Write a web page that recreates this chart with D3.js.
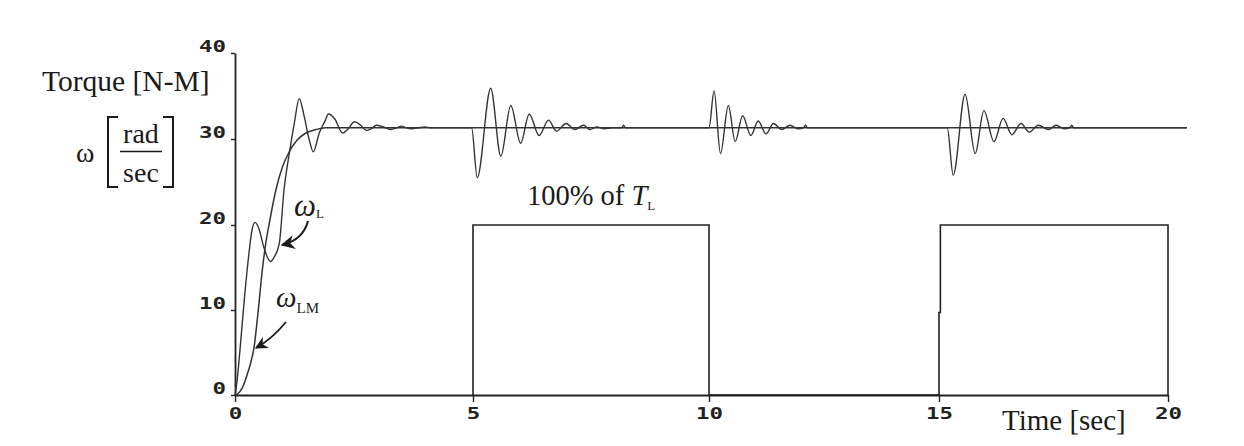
<!DOCTYPE html>
<html>
<head>
<meta charset="utf-8">
<script src="https://cdn.jsdelivr.net/npm/d3@7/dist/d3.min.js"></script>
<style>
  html, body { margin: 0; padding: 0; background: #ffffff; }
  svg { display: block; }
  .serif { font-family: "Liberation Serif", "Times New Roman", serif; fill: #1a1a1a; }
  .tick text { font-family: "DejaVu Sans Mono", monospace; font-weight: bold; font-size: 15px; fill: #222; }
</style>
</head>
<body>
<svg id="chart" width="1244" height="446"></svg>
<script>
// ---- data ----
const xTicks = [0, 5, 10, 15, 20];
const yTicks = [0, 10, 20, 30, 40];

// omega_L (oscillating load speed)
const omegaLTime = [0, 0.04, 0.1, 0.2, 0.3, 0.36, 0.42, 0.5, 0.6, 0.68, 0.75, 0.82, 0.93, 1.03, 1.14, 1.245, 1.35, 1.455, 1.56, 1.645, 1.77, 1.9, 1.96, 2.1, 2.26, 2.38, 2.51, 2.64, 2.76, 2.87, 2.97, 3.12, 3.28, 3.4, 3.5, 3.6, 3.71, 3.85, 3.99, 4.1, 4.2,
  4.97, 5.09, 5.375, 5.59, 5.80, 6.01, 6.19, 6.40, 6.60, 6.77, 6.97, 7.16, 7.34, 7.48, 7.62, 7.78, 7.95, 8.15, 8.19, 8.23,
  10.0, 10.11, 10.25, 10.42, 10.57, 10.73, 10.91, 11.07, 11.24, 11.40, 11.58, 11.76, 11.93, 12.05, 12.10, 12.14,
  15.18, 15.31, 15.57, 15.79, 15.98, 16.20, 16.40, 16.59, 16.79, 16.97, 17.17, 17.39, 17.56, 17.73, 17.85, 17.90, 17.94, 20.41];
const omegaLValue = [0, 1.5, 5, 11.5, 17, 19.5, 20.3, 19.6, 17.5, 16.2, 15.7, 16.2, 17.8, 24.1, 28.3, 31.8, 34.7, 32.6, 29.9, 28.5, 30.7, 32.2, 32.9, 32.3, 30.7, 31.2, 32.0, 31.6, 31.0, 31.2, 31.6, 31.4, 31.1, 31.3, 31.5, 31.3, 31.2, 31.3, 31.4, 31.3, 31.3,
  31.3, 25.5, 35.9, 28.0, 33.9, 29.5, 32.9, 30.4, 32.2, 30.9, 31.8, 31.1, 31.6, 31.1, 31.4, 31.2, 31.3, 31.3, 31.6, 31.3,
  31.3, 35.6, 28.3, 33.9, 29.7, 32.7, 30.4, 32.1, 30.6, 31.8, 31.1, 31.6, 31.2, 31.3, 31.6, 31.3,
  31.3, 25.8, 35.2, 28.3, 33.3, 29.7, 32.4, 30.5, 31.8, 30.8, 31.6, 31.1, 31.6, 31.2, 31.3, 31.6, 31.3, 31.3];

// omega_LM (smooth model speed)
const omegaLMTime = [0, 0.05, 0.15, 0.25, 0.33, 0.40, 0.48, 0.58, 0.65, 0.72, 0.86, 1.0, 1.14, 1.31, 1.49, 1.7, 1.9, 2.3, 20.41];
const omegaLMValue = [0, 0.1, 0.8, 2.3, 3.8, 5.6, 9.5, 15, 18, 20.2, 24.1, 26.8, 28.5, 29.9, 30.7, 31.1, 31.3, 31.3, 31.3];

// load torque pulses (100% of T_L)
const torqueTime = [5, 5, 10, 10, 15, 15, 15.03, 15.03, 20, 20];
const torqueValue = [0, 20, 20, 0, 0, 9.7, 9.7, 20, 20, 0];

// ---- chart ----
const svg = d3.select("#chart");
const x = d3.scaleLinear().domain(xTicks).range([235, 473, 709, 939, 1168]);
const y = d3.scaleLinear().domain(yTicks).range([395, 310, 225, 139, 53]);

const ink = "#222";

// axes
const xAxis = d3.axisBottom(x).tickValues(xTicks).tickSize(7).tickSizeOuter(0).tickFormat(d3.format("d"));
const gx = svg.append("g").attr("transform", `translate(0,${y(0)})`).call(xAxis);
gx.select(".domain").attr("stroke", ink).attr("stroke-width", 1.8);
gx.selectAll(".tick line").attr("stroke", ink).attr("stroke-width", 1.4);
gx.selectAll(".tick text")
  .attr("y", 13)
  .attr("textLength", d => String(d).length * 13.5)
  .attr("lengthAdjust", "spacingAndGlyphs");

const yAxis = d3.axisLeft(y).tickValues(yTicks).tickSize(4).tickSizeOuter(0).tickFormat(d3.format("d"));
const gy = svg.append("g").attr("transform", `translate(${x(0)},0)`).call(yAxis);
gy.select(".domain").attr("stroke", ink).attr("stroke-width", 1.8);
gy.selectAll(".tick line").attr("stroke", ink).attr("stroke-width", 1.4);
gy.selectAll(".tick text")
  .attr("x", -9)
  .attr("dy", null)
  .attr("y", -2)
  .attr("textLength", d => String(d).length * 13.5)
  .attr("lengthAdjust", "spacingAndGlyphs");

// torque pulses
const lineLin = d3.line().x(d => x(d[0])).y(d => y(d[1]));
svg.append("path")
  .datum(d3.zip(torqueTime, torqueValue))
  .attr("d", lineLin)
  .attr("fill", "none").attr("stroke", ink).attr("stroke-width", 1.6);

// speed curves
const lineSmooth = d3.line().x(d => x(d[0])).y(d => y(d[1])).curve(d3.curveMonotoneX);
svg.append("path")
  .datum(d3.zip(omegaLMTime, omegaLMValue))
  .attr("d", lineSmooth)
  .attr("fill", "none").attr("stroke", "#333").attr("stroke-width", 1.5);
svg.append("path")
  .datum(d3.zip(omegaLTime, omegaLValue))
  .attr("d", lineSmooth)
  .attr("fill", "none").attr("stroke", "#333").attr("stroke-width", 1.4);

// ---- labels ----
svg.append("text").attr("class", "serif").attr("x", 42).attr("y", 91)
  .attr("font-size", 29.5).text("Torque [N-M]");

svg.append("text").attr("class", "serif").attr("x", 76).attr("y", 162)
  .attr("font-size", 28).text("ω");
svg.append("path").attr("d", "M118,117 H108 V187 H118").attr("fill", "none").attr("stroke", "#1a1a1a").attr("stroke-width", 2);
svg.append("path").attr("d", "M163,117 H173 V187 H163").attr("fill", "none").attr("stroke", "#1a1a1a").attr("stroke-width", 2);
svg.append("text").attr("class", "serif").attr("x", 141).attr("y", 142.5)
  .attr("text-anchor", "middle").attr("font-size", 28).text("rad");
svg.append("line").attr("x1", 120).attr("x2", 162).attr("y1", 151.5).attr("y2", 151.5)
  .attr("stroke", "#1a1a1a").attr("stroke-width", 1.5);
svg.append("text").attr("class", "serif").attr("x", 141).attr("y", 181.5)
  .attr("text-anchor", "middle").attr("font-size", 28).text("sec");

const pct = svg.append("text").attr("class", "serif").attr("x", 527).attr("y", 205).attr("font-size", 28.5);
pct.append("tspan").text("100% of ");
pct.append("tspan").attr("font-style", "italic").text("T");
pct.append("tspan").attr("font-size", 13).attr("dy", 5).text("L");

const wl = svg.append("text").attr("class", "serif").attr("x", 294).attr("y", 216).attr("font-size", 31);
wl.append("tspan").attr("font-style", "italic").text("ω");
wl.append("tspan").attr("font-size", 13).attr("dy", 2).text("L");

const wlm = svg.append("text").attr("class", "serif").attr("x", 276).attr("y", 306.5).attr("font-size", 29);
wlm.append("tspan").attr("font-style", "italic").text("ω");
wlm.append("tspan").attr("font-size", 15).attr("dy", 6).text("LM");

// arrows
const defs = svg.append("defs");
defs.append("marker").attr("id", "ah").attr("viewBox", "0 0 10 10").attr("refX", 9).attr("refY", 5)
  .attr("markerWidth", 7).attr("markerHeight", 7).attr("orient", "auto-start-reverse")
  .append("path").attr("d", "M0,0 L10,5 L0,10 L3,5 Z").attr("fill", "#1a1a1a");
svg.append("path").attr("d", "M308,221 Q303,240 282,245")
  .attr("fill", "none").attr("stroke", "#1a1a1a").attr("stroke-width", 2).attr("marker-end", "url(#ah)");
svg.append("path").attr("d", "M286,322 Q272,339 256,348")
  .attr("fill", "none").attr("stroke", "#1a1a1a").attr("stroke-width", 1.8).attr("marker-end", "url(#ah)");

svg.append("text").attr("class", "serif").attr("x", 1002).attr("y", 430)
  .attr("font-size", 29).text("Time [sec]");
</script>
</body>
</html>
